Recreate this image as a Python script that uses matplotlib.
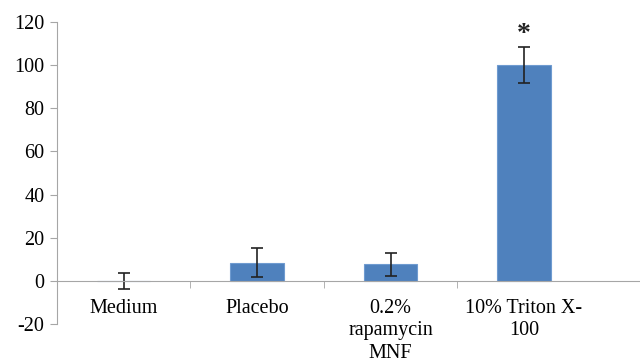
import matplotlib
matplotlib.use("Agg")
from matplotlib import pyplot as plt
import numpy as np

categories = ['Medium', 'Placebo', '0.2%\nrapamycin\nMNF', '10% Triton X-\n100']
values = [0.0, 8.5, 7.7, 100.0]
errors = [3.7, 6.7, 5.4, 8.2]
star_label = '*'

plt.rcParams['font.family'] = ['Liberation Serif', 'DejaVu Serif']
plt.rcParams['axes.unicode_minus'] = False

fig = plt.figure(figsize=(6.4, 3.6), dpi=100)
ax = fig.add_axes([57 / 640, 36 / 360, 1 - 57 / 640, 1 - 58 / 360])

ind = np.arange(len(categories))
bars = ax.bar(ind, values, 0.4, color='#4F81BD', edgecolor='#6F9BD0', linewidth=0.8,
              yerr=errors, capsize=4, error_kw=dict(ecolor='#222222', elinewidth=1.2, capthick=1.2))

# significance marker above the Triton bar
ax.text(ind[3], values[3] + errors[3], star_label, ha='center', va='bottom',
        fontsize=20, fontweight='bold', color='#222222')

ax.set_xlim(-0.5, 3.87)
ax.set_ylim(-20, 120)
ax.set_yticks(np.arange(-20, 121, 20))

ax.spines['top'].set_visible(False)
ax.spines['right'].set_visible(False)
ax.spines['left'].set_color('#A6A6A6')
ax.spines['bottom'].set_color('#A6A6A6')
ax.spines['bottom'].set_position(('data', 0))

ax.set_xticks(ind)
ax.set_xticklabels(categories, fontsize=14.5, va='top', linespacing=1.25)
ax.set_xticks(ind[:-1] + 0.5, minor=True)
ax.tick_params(axis='x', which='major', length=0, pad=13)
ax.tick_params(axis='x', which='minor', length=5, color='#A6A6A6', direction='out')
ax.tick_params(axis='y', labelsize=14.5, length=5, color='#A6A6A6', pad=4)

fig.savefig('out.png', dpi=100)
